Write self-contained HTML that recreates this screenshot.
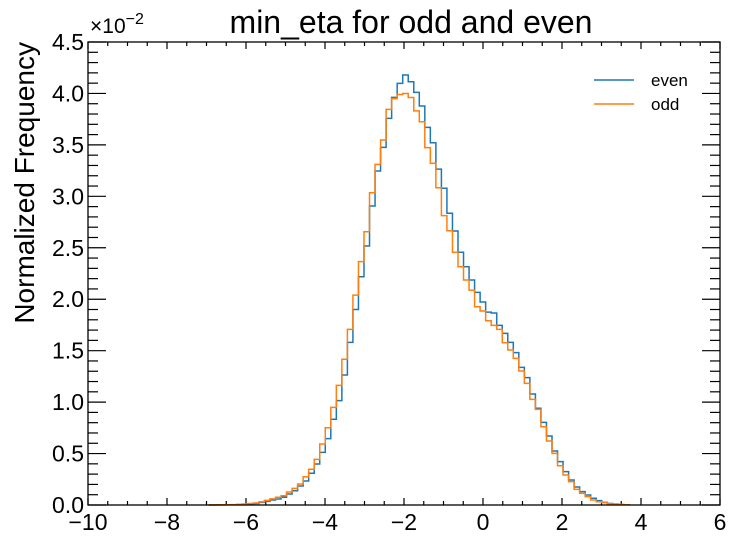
<!DOCTYPE html>
<html><head><meta charset="utf-8"><style>
html,body{margin:0;padding:0;background:#fff;width:737px;height:542px;overflow:hidden}
svg{display:block;font-family:"Liberation Sans",sans-serif}
</style></head><body>
<svg id="chart" width="737" height="542">
<text x="411" y="33" font-size="32" text-anchor="middle">min_eta for odd and even</text>
<text transform="translate(34,42) rotate(-90)" font-size="28" text-anchor="end">Normalized Frequency</text>
<text x="90" y="33" font-size="21">×10<tspan dy="-9" font-size="16">−2</tspan></text>
<g id="ticks"></g>
<g id="series"></g>
<rect x="88" y="42" width="632" height="463" fill="none" stroke="#000" stroke-width="1.3"/>
<g>
<line x1="594" y1="80" x2="634" y2="80" stroke="#1f77b4" stroke-width="1.5"/>
<text x="651" y="86" font-size="17">even</text>
<line x1="594" y1="104" x2="634" y2="104" stroke="#ff7f0e" stroke-width="1.5"/>
<text x="651" y="110" font-size="17">odd</text>
</g>
</svg>
<script>
const binStart = -6.933;
const binWidth = 0.14;
const evenValues = [0.0005,0.001,0.001,0.002,0.002,0.004,0.007,0.01,0.015,0.025,0.035,0.049,0.058,0.075,0.107,0.139,0.185,0.233,0.308,0.398,0.512,0.645,0.833,1.014,1.263,1.581,
1.90,2.219,2.517,2.906,3.246,3.476,3.758,3.962,4.098,4.179,4.114,4.010,3.878,3.670,3.521,3.265,3.078,2.835,2.663,2.456,2.316,2.187,2.067,
1.973,1.875,1.866,1.746,1.668,1.581,1.481,1.338,1.238,1.079,0.940,0.803,0.671,0.525,0.421,0.324,0.243,0.175,0.130,0.097,0.065,0.042,0.026,0.015,0.008,0.004,0.002];
const oddValues = [0.001,0.001,0.002,0.003,0.004,0.006,0.01,0.015,0.02,0.03,0.045,0.06,0.075,0.09,0.126,0.162,0.204,0.275,0.347,0.444,0.593,0.751,0.949,1.163,1.416,1.707,
2.04,2.365,2.656,3.035,3.311,3.547,3.845,3.95,3.99,4.00,3.96,3.83,3.725,3.473,3.321,3.084,2.812,2.666,2.456,2.316,2.187,2.089,1.927,
1.885,1.791,1.746,1.707,1.577,1.506,1.425,1.302,1.182,1.027,0.930,0.761,0.622,0.502,0.382,0.291,0.227,0.152,0.113,0.081,0.049,0.032,0.023,0.015,0.01,0.005,0.003];
const xTickLabels = ["−10","−8","−6","−4","−2","0","2","4","6"];
const xTickValues = [-10,-8,-6,-4,-2,0,2,4,6];
const yTickLabels = ["0.0","0.5","1.0","1.5","2.0","2.5","3.0","3.5","4.0","4.5"];
const yTickValues = [0,0.5,1,1.5,2,2.5,3,3.5,4,4.5];

const L=88,R=720,T=42,B=505;
const xs=v=>L+(v+10)/16*(R-L);
const ys=v=>B-v/4.5*(B-T);
const NS="http://www.w3.org/2000/svg";
const tg=document.getElementById('ticks');
function ln(x1,y1,x2,y2,name){const l=document.createElementNS(NS,'line');
l.setAttribute('x1',x1);l.setAttribute('y1',y1);l.setAttribute('x2',x2);l.setAttribute('y2',y2);
l.setAttribute('stroke','#000');l.setAttribute('stroke-width','1.2');


tg.appendChild(l);}
for(let v=-10;v<=6.001;v+=0.5){const x=xs(v);const major=Math.abs(v%2)<1e-6;const len=major?7:4;
ln(x,B,x,B-len,'x-tick');ln(x,T,x,T+len,'x-tick-top');}
for(let i=0;i<=45;i++){const v=i/10;const y=ys(v);const major=i%5===0;const len=major?18:10;
ln(L,y,L+len,y,'y-tick');ln(R,y,R-len,y,'y-tick-right');}
xTickLabels.forEach((t,i)=>{const e=document.createElementNS(NS,'text');
e.setAttribute('x',xs(xTickValues[i]));e.setAttribute('y',530);e.setAttribute('font-size','23');e.setAttribute('text-anchor','middle');


e.textContent=t;tg.appendChild(e);});
yTickLabels.forEach((t,i)=>{const e=document.createElementNS(NS,'text');
e.setAttribute('x',84);e.setAttribute('y',ys(yTickValues[i])+8);e.setAttribute('font-size','23');e.setAttribute('text-anchor','end');


e.textContent=t;tg.appendChild(e);});
const sg=document.getElementById('series');
function step(vals,color,name){let d='M'+xs(binStart)+','+ys(0);
vals.forEach((v,i)=>{const x0=xs(binStart+i*binWidth),x1=xs(binStart+(i+1)*binWidth);d+=' L'+x0+','+ys(v)+' L'+x1+','+ys(v);});
d+=' L'+xs(binStart+vals.length*binWidth)+','+ys(0);
const p=document.createElementNS(NS,'path');p.setAttribute('d',d);p.setAttribute('fill','none');
p.setAttribute('stroke',color);p.setAttribute('stroke-width','1.5');


sg.appendChild(p);}
step(evenValues,'#1f77b4','even-histogram');
step(oddValues,'#ff7f0e','odd-histogram');
</script>
</body></html>
